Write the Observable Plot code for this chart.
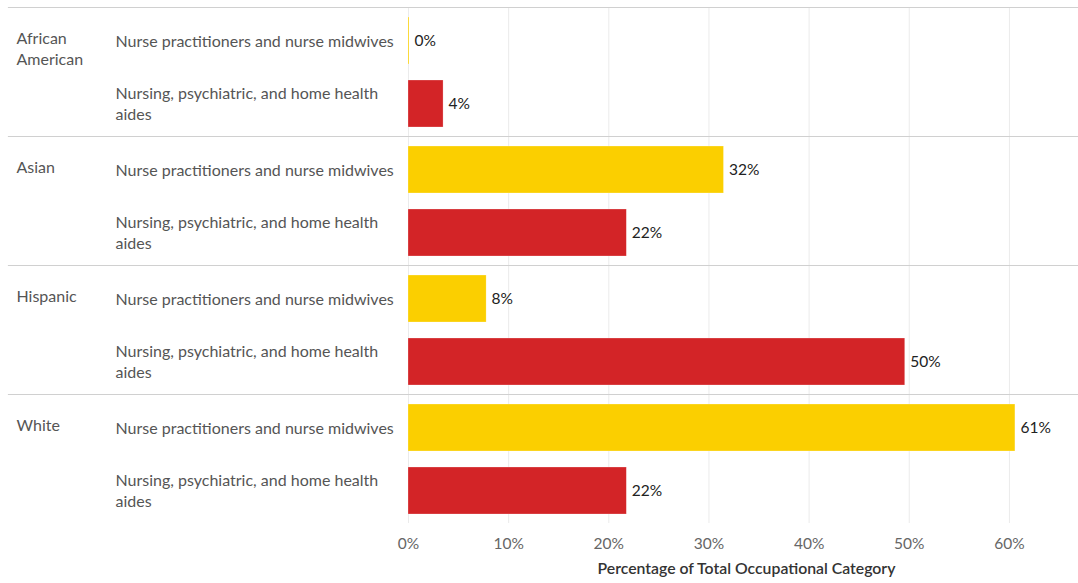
<!DOCTYPE html>
<html>
<head>
<meta charset="utf-8">
<script src="https://cdn.jsdelivr.net/npm/d3@7"></script>
<script src="https://cdn.jsdelivr.net/npm/@observablehq/plot@0.6"></script>
<style>
  body { margin: 0; background: #fff; }
  #chart svg { display: block; }
</style>
</head>
<body>
<div id="chart"></div>
<script>
const groups = ["African American", "Asian", "Hispanic", "White"];
const occupations = ["Nurse practitioners and nurse midwives", "Nursing, psychiatric, and home health aides"];
const npValues = [0.1, 31.5, 7.8, 60.6];
const aideValues = [3.5, 21.8, 49.6, 21.8];
const xTicks = [0, 10, 20, 30, 40, 50, 60];
const colors = ["#FBCF00", "#D32427"];
const axisTitle = "Percentage of Total Occupational Category";

const data = [];
groups.forEach((g, i) => {
  data.push({group: g, occ: occupations[0], value: npValues[i]});
  data.push({group: g, occ: occupations[1], value: aideValues[i]});
});

const wrap = s => s.replace("home health ", "home health\n");
const font = "Lato, 'Open Sans', sans-serif";

const chart = Plot.plot({
  width: 1078,
  height: 583,
  marginTop: 7,
  marginBottom: 60,
  marginLeft: 8,
  marginRight: 0,
  style: {fontFamily: font, fontSize: "14px", background: "#fff"},
  x: {domain: [0, 65.5], range: [408, 1064], ticks: xTicks},
  y: {domain: occupations, paddingInner: 0.26, paddingOuter: 0.14, axis: null},
  fy: {domain: groups, padding: 0, axis: null},
  color: {domain: occupations, range: colors},
  marks: [
    Plot.gridX(xTicks, {stroke: "#ebebeb", strokeOpacity: 1}),
    Plot.frame({anchor: "top", stroke: "#d0d0d0", strokeWidth: 1.2}),
    Plot.barX(data, {y: "occ", fy: "group", x: "value", fill: "occ", stroke: "#ffffff", strokeOpacity: 0.5, strokeWidth: 0.5}),
    Plot.text(data, {y: "occ", fy: "group", x: "value", text: d => Math.round(d.value) + "%",
      textAnchor: "start", dx: 5, fill: "#222", fontSize: 15.5}),
    Plot.text(data, {y: "occ", fy: "group", text: d => wrap(d.occ), frameAnchor: "left",
      textAnchor: "start", dx: 107, dy: -1, fill: "#555", fontSize: 16, lineHeight: 1.3}),
    Plot.text(groups, {fy: d => d, text: d => d.replace(" ", "\n"), frameAnchor: "top-left",
      textAnchor: "start", dx: 8, dy: 22, fill: "#555", fontSize: 16, lineHeight: 1.3, lineAnchor: "top"}),
    Plot.ruleY([0], {fy: ["White"], frameAnchor: "bottom", stroke: "#d0d0d0", strokeWidth: 1.2}),
    Plot.axisX({anchor: "bottom", tickSize: 0, tickPadding: 14, tickFormat: d => d + "%", fontSize: 15.5,
      fill: "#666", label: null, facetAnchor: "bottom"}),
    Plot.text([axisTitle], {fy: ["White"], text: d => d, frameAnchor: "bottom", dx: 203, dy: 50,
      fill: "#333", fontSize: 15.8, fontWeight: 600})
  ]
});

document.getElementById("chart").appendChild(chart);
</script>
</body>
</html>
